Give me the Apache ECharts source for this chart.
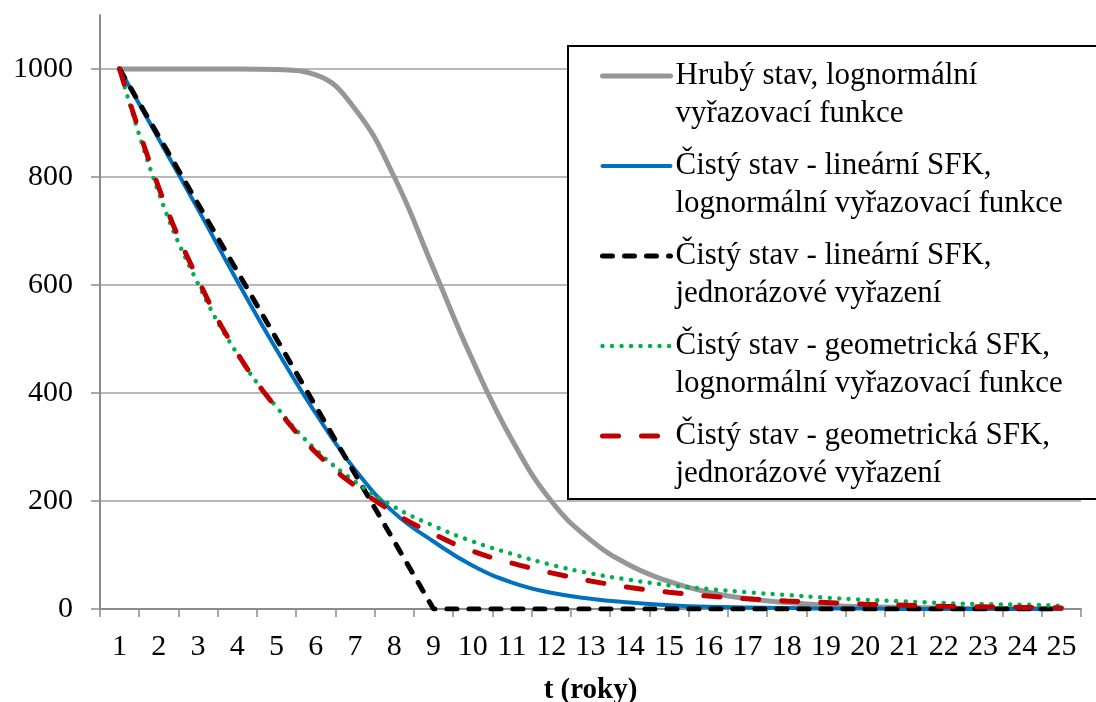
<!DOCTYPE html>
<html><head><meta charset="utf-8">
<script src="https://cdn.jsdelivr.net/npm/echarts@6/dist/echarts.min.js"></script>
<style>html,body{margin:0;padding:0;background:#fff}#c{width:1096px;height:702px}</style>
</head><body><div id="c"></div>
<script>
const years = ['1','2','3','4','5','6','7','8','9','10','11','12','13','14','15','16','17','18','19','20','21','22','23','24','25'];
const yTicks = [0, 200, 400, 600, 800, 1000];
const grossLognormal = [1000,1000,1000,1000,999,989,926,800,630,460,313,200,128,81,51,31,19,12,7,4,3,2,1,1,0];
const netLinearLognormal = [1000,870,740,607,480,362,258,178,125,80,49,30,19,12,7,4,3,2,1,1,0,0,0,0,0];
const netLinearSingle = [1000,875,750,625,500,375,250,125,0,0,0,0,0,0,0,0,0,0,0,0,0,0,0,0,0];
const netGeomLognormal = [1000,770,602,472,374,295,236,189,154,125,102,82,66,54,44,37,31,26,21,17,14,11,9,8,6];
const netGeomSingle = [1000,780,610,474,372,290,228,178,139,107,85,67,52,40,31,24,19,15,12,9,7,5,4,3,2];
const names = [
  'Hrubý stav, lognormální\nvyřazovací funkce',
  'Čistý stav - lineární SFK,\nlognormální vyřazovací funkce',
  'Čistý stav - lineární SFK,\njednorázové vyřazení',
  'Čistý stav - geometrická SFK,\nlognormální vyřazovací funkce',
  'Čistý stav - geometrická SFK,\njednorázové vyřazení'
];
const xTitle = 't (roky)';

const FONT = "'Liberation Serif', 'Times New Roman', serif";
const axisGray = '#8c8c8c';
const chart = echarts.init(document.getElementById('c'), null, {renderer: 'canvas'});
chart.setOption({
  animation: false,
  backgroundColor: '#fff',
  grid: {left: 100, right: 15, top: 15, bottom: 93, containLabel: false, outerBoundsMode: 'none'},
  xAxis: {
    type: 'category', data: years, boundaryGap: true,
    name: xTitle, nameLocation: 'middle', nameGap: 67,
    nameTextStyle: {fontFamily: FONT, fontSize: 29, fontWeight: 'bold', color: '#000'},
    axisLine: {lineStyle: {color: axisGray, width: 2}},
    axisTick: {show: true, interval: 0, alignWithLabel: false, length: 8, lineStyle: {color: axisGray, width: 1.5}},
    axisLabel: {interval: 0, margin: 23, fontFamily: FONT, fontSize: 30, color: '#000'},
    splitLine: {show: false}
  },
  yAxis: {
    type: 'value', min: 0, max: 1100, interval: 200,
    axisLine: {show: true, lineStyle: {color: axisGray, width: 2}},
    axisTick: {show: true, length: 9, customValues: yTicks, lineStyle: {color: axisGray, width: 1.5}},
    axisLabel: {customValues: yTicks, margin: 27, fontFamily: FONT, fontSize: 30, color: '#000',
                formatter: function (v) { return String(v); }},
    splitLine: {show: true, showMinLine: false, lineStyle: {color: '#a0a0a0', width: 1.5}}
  },
  graphic: [{
    type: 'rect', z: 3, left: 567, top: 45,
    shape: {width: 560, height: 453},
    style: {fill: '#fff', stroke: '#000', lineWidth: 2}
  }],
  legend: {
    orient: 'vertical', left: 600, top: 19, z: 5,
    itemWidth: 68, itemHeight: 14, itemGap: -24, padding: 0,
    lineStyle: {width: 'inherit'},
    itemStyle: {opacity: 0},
    formatter: function (n) { return '\u00a0\n' + n; },
    textStyle: {fontFamily: FONT, fontSize: 31, color: '#000', lineHeight: 38},
    data: names
  },
  series: [
    {name: names[0], type: 'line', data: grossLognormal, smooth: 0.45, symbol: 'none', z: 2,
     itemStyle: {color: '#969696'}, lineStyle: {color: '#969696', width: 5, cap: 'round'}},
    {name: names[1], type: 'line', data: netLinearLognormal, smooth: 0.45, symbol: 'none', z: 3,
     itemStyle: {color: '#0070C0'}, lineStyle: {color: '#0070C0', width: 4, cap: 'round'}},
    {name: names[2], type: 'line', data: netLinearSingle, smooth: false, symbol: 'none', z: 4,
     itemStyle: {color: '#000'}, lineStyle: {color: '#000', width: 5, type: [10, 12], cap: 'round'}},
    {name: names[3], type: 'line', data: netGeomLognormal, smooth: 0.45, symbol: 'none', z: 5,
     itemStyle: {color: '#00B050'}, lineStyle: {color: '#00B050', width: 4.5, type: [0.01, 9.5], cap: 'round'}},
    {name: names[4], type: 'line', data: netGeomSingle, smooth: 0.45, symbol: 'none', z: 6,
     itemStyle: {color: '#C00000'}, lineStyle: {color: '#C00000', width: 5, type: [16, 23], cap: 'round'}}
  ]
});
</script></body></html>
